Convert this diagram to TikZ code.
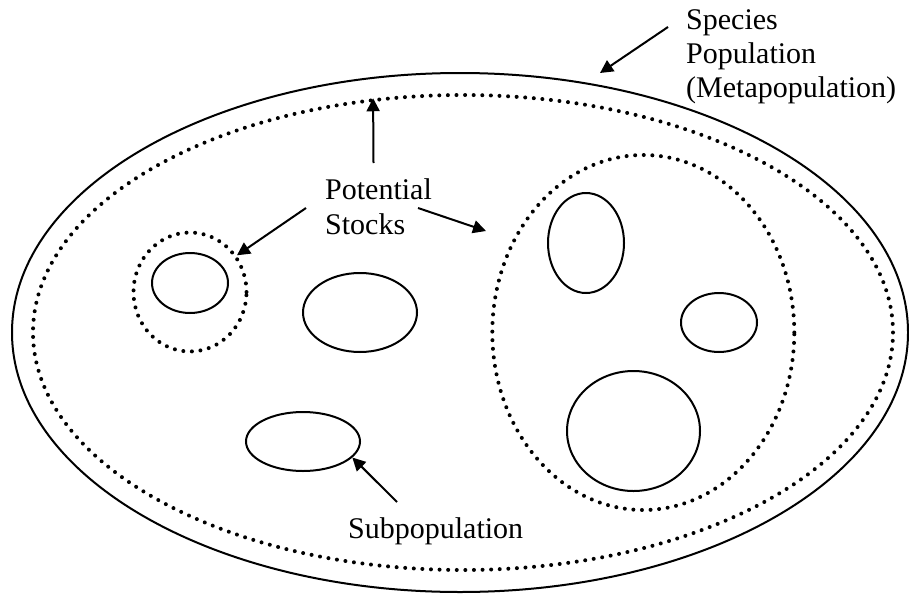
\documentclass[tikz,border=0pt]{standalone}
\usepackage{fontspec}
\setmainfont{Liberation Serif}
\usetikzlibrary{arrows.meta, shapes.geometric, positioning}

\begin{document}
\begin{tikzpicture}[x=1pt, y=-1pt]

	\tikzset{pop/.style 2 args={
			ellipse, draw,
			line width=2pt,
			minimum width=#1,
			minimum height=#2,
			inner sep=0pt
		},
		stock/.style 2 args={
			ellipse, draw,
			line width=4pt, line cap=round,
			dash pattern=on 0pt off 8.6pt,
			minimum width=#1,
			minimum height=#2,
			inner sep=0pt
		},
		lbl/.style={anchor=base west, inner sep=0pt, font=\fontsize{30}{35}\selectfont},
		arr/.style={line width=2pt, -{Triangle[length=13pt, width=13pt]}}
	}

	\useasboundingbox (0,0) rectangle (909,594);

	% species and stocks
	\node[pop={896pt}{519pt}] (species) at (460,332.5) {};
	\node[stock={860pt}{475pt}] (meta) at (463,332.5) {};
	\node[stock={113pt}{119pt}] (leftstock) at (190,292) {};
	\node[stock={302pt}{355pt}] (rightstock) at (643.3,332.5) {};

	% subpopulations
	\node[pop={76pt}{60pt}] (sub1) at (190,283) {};
	\node[pop={114pt}{79pt}] (sub2) at (360,312.5) {};
	\node[pop={114pt}{59pt}] (sub3) at (303,441.5) {};
	\node[pop={76pt}{100pt}] (sub4) at (586,243) {};
	\node[pop={76pt}{59pt}] (sub5) at (719,322.5) {};
	\node[pop={133pt}{120pt}] (sub6) at (633.5,431) {};

	% labels
	\node[lbl] (spec) at (686,30) {Species};
	\node[lbl] (popl) at (686,63.5) {Population};
	\node[lbl] (metapop) at (686,97) {(Metapopulation)};
	\node[lbl] (potential) at (325,199) {Potential};
	\node[lbl] (stocks) at (325,234) {Stocks};
	\node[lbl] (subpop) at (348,538) {Subpopulation};

	\coordinate (specfrom) at (668,27);
	\coordinate (spectip) at (600,73);
	\coordinate (upfrom) at (373.5,163);
	\coordinate (leftfrom) at (306,208);
	\coordinate (rightfrom) at (418,208);
	\coordinate (righttip) at (486,231);
	\coordinate (subfrom) at (397,502);

	\draw[arr] (specfrom) -- (spectip);
	\draw[arr] (upfrom) -- (meta.111);
	\draw[arr] (leftfrom) -- (leftstock.38);
	\draw[arr] (rightfrom) -- (righttip);
	\draw[arr] (subfrom) -- (sub3.-18);

\end{tikzpicture}
\end{document}
